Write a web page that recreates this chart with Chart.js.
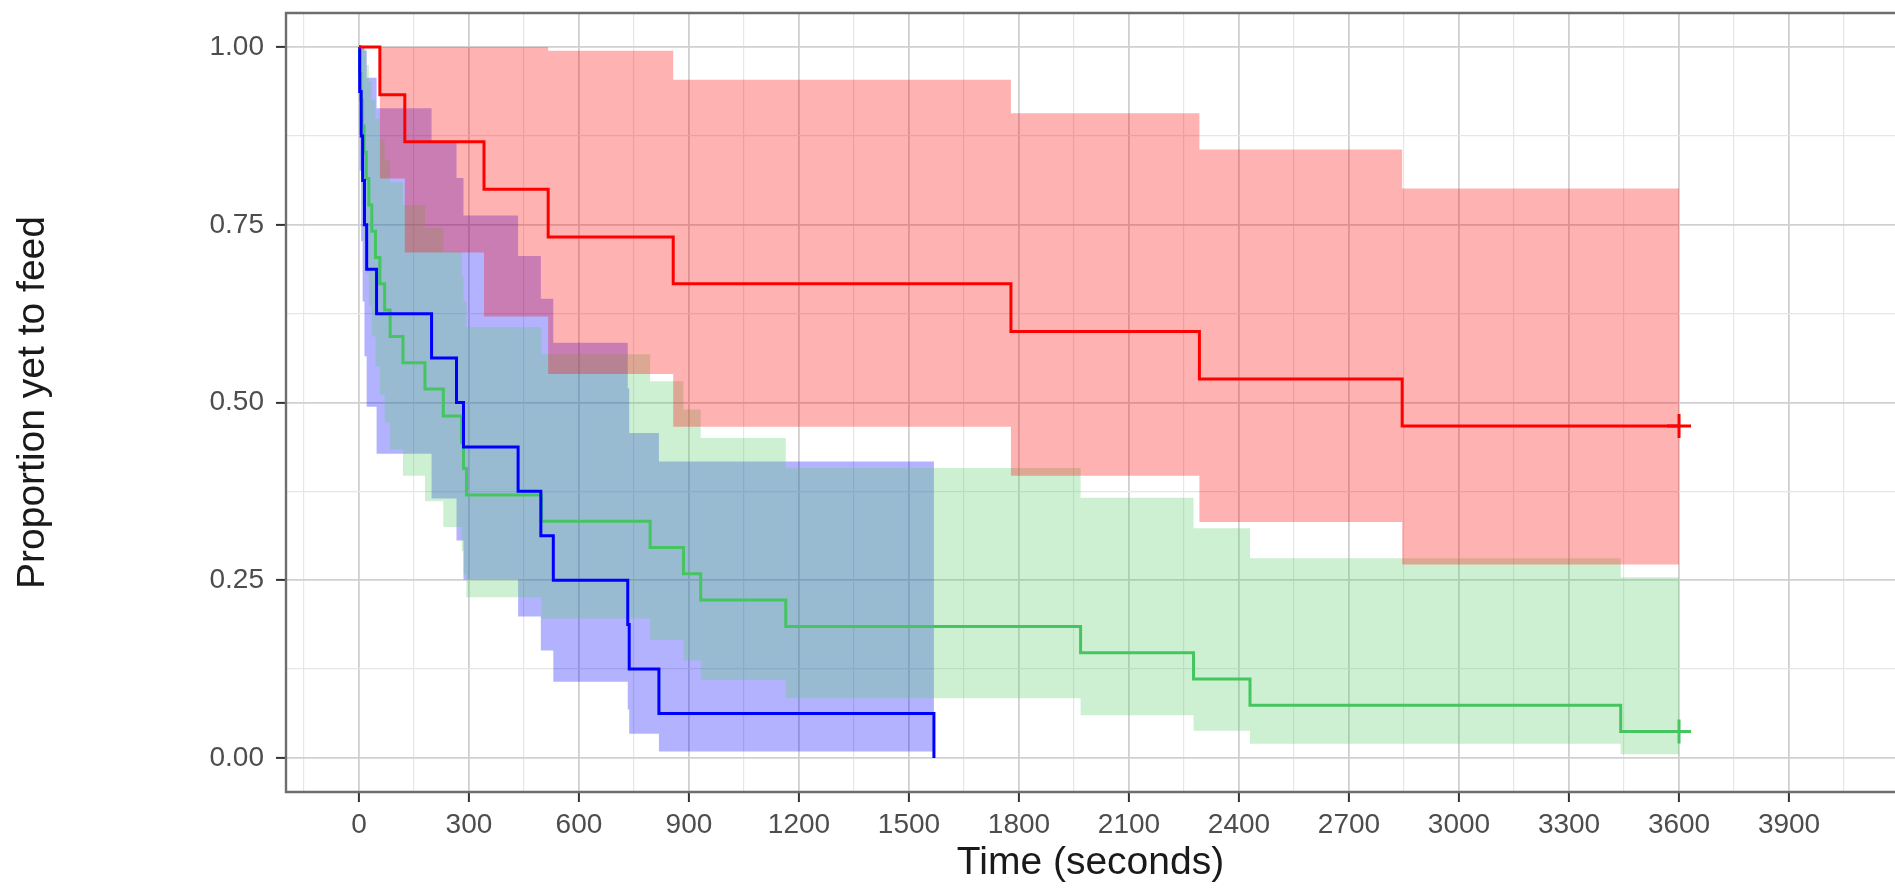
<!DOCTYPE html>
<html>
<head>
<meta charset="utf-8">
<script src="https://cdn.jsdelivr.net/npm/chart.js@4.4.1/dist/chart.umd.min.js"></script>
<style>
  html, body { margin: 0; padding: 0; background: #fff; }
  #chart { display: block; }
</style>
</head>
<body>
<canvas id="chart" width="1895" height="888"></canvas>
<script>
// values (time in seconds, proportion yet to feed)
const redTimes  = [0, 57, 125, 341, 516, 857, 1778, 2292, 2845, 3600];
const redSurv   = [1, 0.933, 0.867, 0.800, 0.733, 0.667, 0.600, 0.533, 0.467, 0.467];
const redUpper  = [1, 1, 1, 1, 0.995, 0.954, 0.907, 0.856, 0.801, 0.801];
const redLower  = [1, 0.815, 0.711, 0.621, 0.540, 0.466, 0.397, 0.332, 0.272, 0.272];

const blueTimes = [0, 2, 6, 10, 15, 21, 48, 198, 266, 285, 434, 496, 530, 733, 737, 818, 1568];
const blueSurv  = [1, 0.9375, 0.875, 0.8125, 0.75, 0.6875, 0.625, 0.5625, 0.5, 0.4375, 0.375, 0.3125, 0.25, 0.1875, 0.125, 0.0625, 0];
const blueUpper = [1, 1, 1, 1, 0.995, 0.957, 0.914, 0.867, 0.816, 0.763, 0.706, 0.646, 0.584, 0.520, 0.457, 0.417, 0.417];
const blueLower = [1, 0.826, 0.727, 0.642, 0.565, 0.494, 0.428, 0.365, 0.306, 0.251, 0.199, 0.151, 0.107, 0.068, 0.034, 0.009, 0.009];

const greenTimes = [0, 2, 5, 9, 14, 20, 27, 35, 45, 57, 70, 85, 120, 180, 230, 280, 285, 293, 498, 794, 885, 932, 1164, 1968, 2276, 2430, 3441, 3600];
const greenSurv  = [1, 0.963, 0.926, 0.889, 0.852, 0.815, 0.778, 0.741, 0.704, 0.667, 0.630, 0.593, 0.556, 0.519, 0.481, 0.444, 0.407, 0.370, 0.333, 0.296, 0.259, 0.222, 0.185, 0.148, 0.111, 0.074, 0.037, 0.037];
const greenUpper = [1, 1, 1, 1, 0.997, 0.975, 0.952, 0.926, 0.899, 0.870, 0.841, 0.810, 0.778, 0.746, 0.712, 0.678, 0.642, 0.606, 0.568, 0.530, 0.490, 0.450, 0.408, 0.366, 0.323, 0.281, 0.254, 0.254];
const greenLower = [1, 0.894, 0.832, 0.778, 0.728, 0.681, 0.636, 0.593, 0.551, 0.511, 0.472, 0.434, 0.397, 0.361, 0.325, 0.291, 0.258, 0.226, 0.196, 0.166, 0.137, 0.110, 0.084, 0.060, 0.038, 0.020, 0.005, 0.005];

// censored ends (+ marks)
const censorRed   = [{ x: 3600, y: 0.467 }];
const censorGreen = [{ x: 3600, y: 0.037 }];

const xTickValues = [0, 300, 600, 900, 1200, 1500, 1800, 2100, 2400, 2700, 3000, 3300, 3600, 3900];
const yTickValues = [0, 0.25, 0.5, 0.75, 1];
const yTickLabels = ['0.00', '0.25', '0.50', '0.75', '1.00'];
const xTitle = 'Time (seconds)';
const yTitle = 'Proportion yet to feed';

// the panel runs off the right edge of the picture
const X_MIN = -199, X_MAX = 4189;
const Y_MIN = -0.048, Y_MAX = 1.048;

const FONT = "'Liberation Sans', Arial, Helvetica, sans-serif";
const LINE_W = 3;

function pts(xs, ys) {
  return xs.map((x, i) => ({ x, y: ys[i] }));
}

// major ticks plus the minor ones halfway between them
function withMinor(major, min, max) {
  const step = major[1] - major[0];
  const minor = [major[0] - step / 2, ...major.map(v => v + step / 2)];
  return [...major, ...minor].filter(v => v >= min && v <= max).sort((a, b) => a - b);
}

function isMajor(list, v) {
  return list.some(m => Math.abs(m - v) < 1e-9);
}

function survLine(times, surv, color, order) {
  return {
    data: pts(times, surv),
    borderColor: color,
    borderWidth: LINE_W,
    stepped: 'before',
    pointRadius: 0,
    fill: false,
    order,
  };
}

// upper edge fills down to the lower edge that follows it
function ribbon(times, upper, lower, fillColor, order) {
  return [
    {
      data: pts(times, upper),
      borderWidth: 0,
      borderColor: 'rgba(0,0,0,0)',
      backgroundColor: fillColor,
      stepped: 'before',
      pointRadius: 0,
      fill: '+1',
      order,
    },
    {
      data: pts(times, lower),
      borderWidth: 0,
      borderColor: 'rgba(0,0,0,0)',
      stepped: 'before',
      pointRadius: 0,
      fill: false,
      order,
    },
  ];
}

function censor(data, color) {
  return {
    data,
    showLine: false,
    pointStyle: 'cross',
    pointRadius: 12,
    pointBorderWidth: LINE_W,
    borderColor: color,
    backgroundColor: color,
    order: 0,
  };
}

// top, left and bottom sides of the panel border (right side is cut off)
const panelBorder = {
  id: 'panelBorder',
  afterDatasetsDraw(chart) {
    const { ctx, chartArea: a } = chart;
    ctx.save();
    ctx.strokeStyle = '#6e6e6e';
    ctx.lineWidth = 2.4;
    ctx.beginPath();
    ctx.moveTo(a.right + 2, a.top);
    ctx.lineTo(a.left, a.top);
    ctx.lineTo(a.left, a.bottom);
    ctx.lineTo(a.right + 2, a.bottom);
    ctx.stroke();
    ctx.restore();
  },
};

const xTicks = withMinor(xTickValues, X_MIN, X_MAX);
const yTicks = withMinor(yTickValues, Y_MIN, Y_MAX);

const gridColor = list => c => (c.tick && isMajor(list, c.tick.value)) ? '#d0d0d0' : '#e6e6e6';
const gridWidth = list => c => (c.tick && isMajor(list, c.tick.value)) ? 1.8 : 1.2;
const tickColor = list => c => (c.tick && isMajor(list, c.tick.value)) ? '#333333' : 'rgba(0,0,0,0)';

new Chart(document.getElementById('chart'), {
  type: 'line',
  data: {
    datasets: [
      censor(censorRed, '#ff0000'),
      censor(censorGreen, '#45c560'),
      survLine(redTimes, redSurv, '#ff0000', 1),
      survLine(blueTimes, blueSurv, '#0000ff', 2),
      survLine(greenTimes, greenSurv, '#45c560', 3),
      ...ribbon(redTimes, redUpper, redLower, 'rgba(255,0,0,0.3)', 10),
      ...ribbon(greenTimes, greenUpper, greenLower, 'rgba(88,205,105,0.3)', 20),
      ...ribbon(blueTimes, blueUpper, blueLower, 'rgba(0,0,255,0.3)', 30),
    ],
  },
  options: {
    responsive: false,
    animation: false,
    devicePixelRatio: 1,
    layout: { autoPadding: false, padding: { top: 13, right: 0, left: 0, bottom: 0 } },
    plugins: {
      legend: { display: false },
      tooltip: { enabled: false },
      filler: { drawTime: 'beforeDatasetsDraw' },
    },
    scales: {
      x: {
        type: 'linear',
        min: X_MIN,
        max: X_MAX,
        afterBuildTicks: s => { s.ticks = xTicks.map(v => ({ value: v })); },
        afterFit: s => { s.height = 96; s.paddingLeft = 0; s.paddingRight = 0; },
        grid: {
          color: gridColor(xTickValues),
          lineWidth: gridWidth(xTickValues),
          tickColor: tickColor(xTickValues),
          tickWidth: 2,
          tickLength: 10,
        },
        border: { display: false },
        ticks: {
          autoSkip: false,
          maxRotation: 0,
          padding: 6,
          color: '#4d4d4d',
          font: { family: FONT, size: 28 },
          callback: v => isMajor(xTickValues, v) ? String(v) : '',
        },
        title: {
          display: true,
          text: xTitle,
          color: '#1a1a1a',
          font: { family: FONT, size: 39 },
          padding: { top: 0, bottom: 1 },
        },
      },
      y: {
        type: 'linear',
        min: Y_MIN,
        max: Y_MAX,
        afterBuildTicks: s => { s.ticks = yTicks.map(v => ({ value: v })); },
        afterFit: s => { s.width = 286; s.paddingTop = 0; s.paddingBottom = 0; },
        grid: {
          color: gridColor(yTickValues),
          lineWidth: gridWidth(yTickValues),
          tickColor: tickColor(yTickValues),
          tickWidth: 2,
          tickLength: 10,
        },
        border: { display: false },
        ticks: {
          autoSkip: false,
          padding: 12,
          color: '#4d4d4d',
          font: { family: FONT, size: 28 },
          callback: v => {
            const i = yTickValues.findIndex(m => Math.abs(m - v) < 1e-9);
            return i >= 0 ? yTickLabels[i] : '';
          },
        },
        title: {
          display: true,
          text: yTitle,
          color: '#1a1a1a',
          font: { family: FONT, size: 39 },
          padding: { top: 10, bottom: 0 },
        },
      },
    },
  },
  plugins: [panelBorder],
});
</script>
</body>
</html>
